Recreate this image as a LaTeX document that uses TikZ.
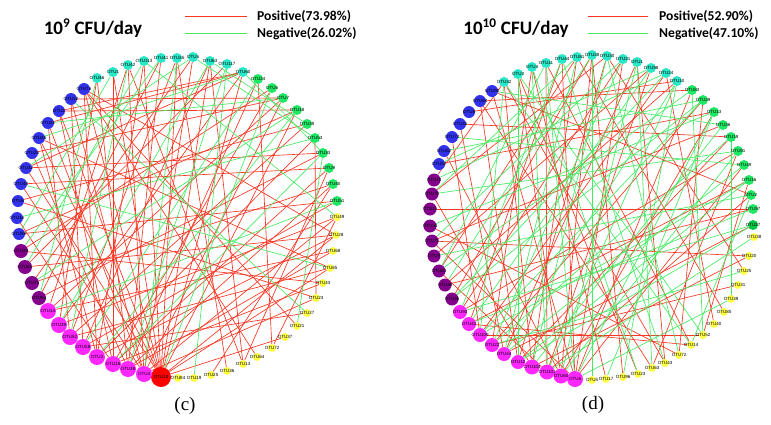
\documentclass[tikz,border=0pt]{standalone}
\usepackage{fontspec}
\setmainfont{Liberation Serif}
\newfontfamily\lblfont{Liberation Sans}
\newfontfamily\ttlfont{Carlito}
\pgfdeclarelayer{bg}
\pgfdeclarelayer{edges}
\pgfsetlayers{bg,edges,main}
\definecolor{cBlue}{RGB}{50,50,235}
\definecolor{cCyan}{RGB}{40,232,200}
\definecolor{cGrn}{RGB}{30,232,100}
\definecolor{cGrnD}{RGB}{0,200,70}
\definecolor{cYel}{RGB}{255,255,70}
\definecolor{cMag}{RGB}{255,40,255}
\definecolor{cPur}{RGB}{130,0,140}
\definecolor{cRed}{RGB}{255,0,0}
\definecolor{posE}{RGB}{250,55,35}
\definecolor{negE}{RGB}{70,235,100}
\tikzset{
  otu/.style={circle, inner sep=0pt, draw=none, font=\lblfont\fontsize{4.5}{4.5}\selectfont, text=black},
  posedge/.style={draw=posE, line width=0.65pt},
  negedge/.style={draw=negE, line width=0.65pt},
  ttl/.style={font=\ttlfont\bfseries\fontsize{19}{21}\selectfont, inner sep=0pt},
  lgd/.style={font=\ttlfont\bfseries\fontsize{13.6}{15}\selectfont, inner sep=0pt, anchor=west},
  sublbl/.style={font=\fontsize{19}{21}\selectfont, inner sep=0pt}
}
\begin{document}
\begin{tikzpicture}[x=1pt,y=-1pt]
\useasboundingbox (0,0) rectangle (771,424);
\begin{pgfonlayer}{bg}
\fill[white] (0,0) rectangle (771,424);
\end{pgfonlayer}

% ---------- left network nodes
\foreach \n/\x/\y/\c/\d/\t in {
L0/161/377/cRed/20/OTU10, L1/144/374/cMag/16/OTU4, L2/128/369/cMag/16/OTU38,
L3/113/364/cMag/16/OTU16, L4/97/357/cMag/16/OTU3, L5/83/347/cMag/16/OTU58,
L6/70/337/cMag/16/OTU52, L7/59/325/cMag/16/OTU39, L8/48/311/cMag/16/OTU14,
L9/39/298/cPur/14/OTU51, L10/32/283/cPur/14/OTU71, L11/25/267/cPur/14/OTU61,
L12/21/251/cPur/14/OTU48, L13/19/234/cBlue/12/OTU59, L14/17/218/cBlue/12/OTU15,
L15/18/201/cBlue/12/OTU8, L16/21/184/cBlue/12/OTU44, L17/26/168/cBlue/12/OTU32,
L18/32/153/cBlue/12/OTU25, L19/39/138/cBlue/12/OTU26, L20/48/123/cBlue/12/OTU21,
L21/59/111/cBlue/12/OTU2, L22/71/99/cBlue/12/OTU12, L23/84/89/cBlue/12/OTU76,
L24/97/78/cCyan/10/OTU46, L25/113/72/cCyan/10/OTU1, L26/128/65/cCyan/10/OTU42,
L27/144/61/cCyan/10/OTU113, L28/161/58/cCyan/10/OTU41, L29/177/58/cCyan/10/OTU35,
L30/193/57/cCyan/10/OTU5, L31/210/61/cCyan/10/OTU63, L32/227/64/cCyan/10/OTU117,
L33/243/72/cCyan/10/OTU60, L34/258/79/cGrn/10/OTU24, L35/272/88/cGrn/10/OTU6,
L36/283/98/cGrn/10/OTU7, L37/297/110/cGrn/10/OTU18, L38/307/124/cGrn/10/OTU29,
L39/315/138/cGrn/10/OTU53, L40/323/153/cGrn/10/OTU33, L41/329/168/cGrn/10/OTU9,
L42/333/184/cGrn/10/OTU40, L43/337/201/cGrn/10/OTU51, L44/337/217/cYel/8/OTU49,
L45/336/235/cYel/8/OTU28, L46/333/251/cYel/8/OTU68, L47/330/268/cYel/8/OTU65,
L48/323/283/cYel/8/OTU43, L49/316/298/cYel/8/OTU23, L50/307/313/cYel/8/OTU27,
L51/297/326/cYel/8/OTU21, L52/285/337/cYel/8/OTU37, L53/272/348/cYel/8/OTU72,
L54/257/357/cYel/8/OTU64, L55/243/364/cYel/8/OTU13, L56/227/371/cYel/8/OTU36,
L57/211/375/cYel/8/OTU25, L58/194/378/cYel/8/OTU19, L59/178/378/cYel/8/OTU84}
  \node[otu, fill=\c, minimum size=\d pt] (\n) at (\x,\y) {\makebox[0pt]{\t}};

% ---------- right network nodes
\foreach \n/\x/\y/\c/\d/\t in {
R0/575/379/cMag/16/OTU6, R1/561/376/cMag/15/OTU60, R2/547/372/cMag/15/OTU101,
R3/532/367/cMag/15/OTU104, R4/518/362/cMag/14/OTU12, R5/504/354/cMag/14/OTU44,
R6/492/345/cMag/14/OTU22, R7/480/335/cMag/14/OTU109, R8/469/324/cMag/14/OTU42,
R9/460/312/cMag/14/OTU93, R10/452/299/cPur/13/OTU46, R11/445/285/cPur/13/OTU48,
R12/439/271/cPur/13/OTU53, R13/434/256/cPur/13/OTU9, R14/432/241/cPur/13/OTU71,
R15/430/226/cPur/13/OTU50, R16/430/209/cPur/13/OTU15, R17/432/194/cPur/13/OTU70,
R18/434/180/cPur/13/OTU18, R19/439/164/cBlue/12/OTU57, R20/444/151/cBlue/12/OTU62,
R21/452/137/cBlue/12/OTU74, R22/460/124/cBlue/12/OTU45, R23/469/112/cBlue/12/OTU8,
R24/480/101/cBlue/12/OTU84, R25/492/91/cBlue/12/OTU90, R26/504/82/cCyan/10/OTU32,
R27/518/74/cCyan/10/OTU3, R28/532/67/cCyan/10/OTU4, R29/546/63/cCyan/10/OTU11,
R30/562/59/cCyan/10/OTU44, R31/577/57/cCyan/10/OTU81, R32/592/55/cCyan/10/OTU28,
R33/607/56/cCyan/10/OTU30, R34/623/59/cCyan/10/OTU21, R35/637/62/cCyan/10/OTU1,
R36/651/68/cCyan/10/OTU98, R37/666/73/cCyan/10/OTU24, R38/677/81/cCyan/10/OTU10,
R39/692/90/cGrn/10/OTU83, R40/703/100/cGrn/10/OTU29, R41/714/112/cGrn/10/OTU13,
R42/723/125/cGrn/10/OTU26, R43/731/137/cGrn/10/OTU19, R44/738/151/cGrn/10/OTU91,
R45/744/165/cGrn/10/OTU49, R46/749/180/cGrn/10/OTU16, R47/751/195/cGrn/10/OTU2,
R48/753/209/cGrn/10/OTU97, R49/753/225/cGrnD/10/OTU27, R50/754/237/cYel/8/OTU38,
R51/749/256/cYel/8/OTU20, R52/744/271/cYel/8/OTU25, R53/738/285/cYel/8/OTU31,
R54/731/299/cYel/8/OTU39, R55/724/312/cYel/8/OTU85, R56/714/324/cYel/8/OTU40,
R57/703/335/cYel/8/OTU52, R58/691/345/cYel/8/OTU14, R59/679/355/cYel/8/OTU72,
R60/665/363/cYel/8/OTU43, R61/652/368/cYel/8/OTU63, R62/638/374/cYel/8/OTU23,
R63/623/377/cYel/8/OTU96, R64/606/379/cYel/8/OTU17, R65/592/380/cYel/8/OTU5}
  \node[otu, fill=\c, minimum size=\d pt] (\n) at (\x,\y) {\makebox[0pt]{\t}};

\begin{pgfonlayer}{edges}
% left positive
\foreach \a/\b in {0/27,0/25,0/23,0/21,0/19,0/31,0/33,0/37,0/45,0/47,0/52,0/17,0/29,
1/26,1/22,1/20,1/30,1/36,1/44,1/49,1/16,2/24,2/28,2/18,2/34,2/42,2/46,
3/21,3/25,3/35,3/41,3/48,3/14,4/23,4/27,4/39,4/45,4/19,5/22,5/31,5/43,5/50,
6/20,6/29,6/38,6/47,7/24,7/33,7/44,8/26,8/36,8/46,9/28,9/40,10/30,10/42,
11/32,11/45,12/35,12/48,13/37,13/43,15/38,15/49,16/41,17/40,18/36,19/47,21/37,22/36,
23/51,23/45,23/54,33/21,33/20,33/17,34/53,39/49,41/55,42/57,44/53,31/55,29/56,26/55}
  \draw[posedge] (L\a) -- (L\b);
% left negative
\foreach \a/\b in {2/32,3/40,4/37,5/34,6/26,7/31,14/39,16/47,17/30,20/36,30/39,
32/58,33/40,51/40,31/38,12/28,19/33,9/24,11/27,1/29,0/35,13/25,8/43,22/50,27/44,10/37}
  \draw[negedge] (L\a) -- (L\b);
% right positive
\foreach \a/\b in {0/30,0/34,0/39,0/45,0/25,0/14,1/32,1/27,1/41,1/20,2/29,2/36,2/47,2/12,
3/31,3/26,3/51,3/17,4/33,4/24,4/43,5/35,5/22,5/49,6/28,6/40,6/53,7/37,7/21,7/57,
8/30,8/46,8/58,9/34,9/44,10/32,11/38,11/48,12/31,13/36,
16/48,14/51,14/42,15/59,17/33,18/26,19/41,22/43,23/38,24/39,24/61,25/47,
26/60,27/62,28/64,29/58,31/55,32/63,33/52,35/60,37/56,40/59,44/61,46/57}
  \draw[posedge] (R\a) -- (R\b);
% right negative
\foreach \a/\b in {0/29,0/41,0/54,1/35,1/44,2/28,2/38,2/50,3/33,3/42,4/27,4/46,5/31,5/45,
6/34,6/52,7/26,7/40,8/36,8/48,9/30,9/49,10/37,11/32,12/39,13/47,14/34,15/41,
17/44,19/36,20/40,21/45,25/42,26/58,28/62,30/60,32/65,33/59,35/61,
38/63,39/57,41/64,43/54,47/58,29/12,31/17,4/49,5/38,6/43,7/46,10/40,18/37,27/57}
  \draw[negedge] (R\a) -- (R\b);
\end{pgfonlayer}

% ---------- titles and legends
\node[ttl] (tl) at (93,28) {10\textsuperscript{9} CFU/day};
\coordinate (lp1) at (185,16); \coordinate (lp2) at (247,16);
\coordinate (ln1) at (185,33); \coordinate (ln2) at (247,33);
\draw[posedge] (lp1) -- (lp2);
\draw[negedge] (ln1) -- (ln2);
\node[lgd] (lpt) at (257,16) {Positive(73.98\%)};
\node[lgd] (lnt) at (257,34) {Negative(26.02\%)};

\node[ttl] (tr) at (516,28) {10\textsuperscript{10} CFU/day};
\coordinate (rp1) at (588,16); \coordinate (rp2) at (648,16);
\coordinate (rn1) at (588,33); \coordinate (rn2) at (648,33);
\draw[posedge] (rp1) -- (rp2);
\draw[negedge] (rn1) -- (rn2);
\node[lgd] (rpt) at (659,16) {Positive(52.90\%)};
\node[lgd] (rnt) at (659,34) {Negative(47.10\%)};

\node[sublbl] (subc) at (185,406) {(c)};
\node[sublbl] (subd) at (593,405) {(d)};
\end{tikzpicture}
\end{document}
